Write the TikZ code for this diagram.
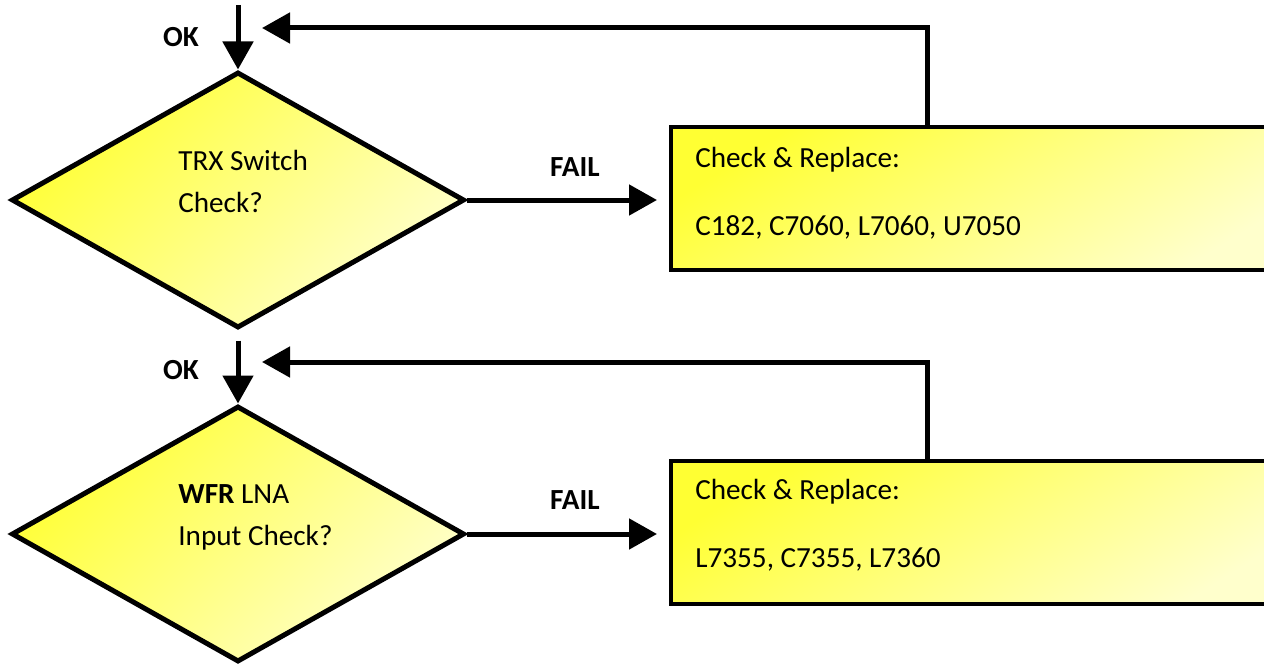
\documentclass[tikz,border=0pt]{standalone}
\usepackage{fontspec}
\setmainfont{Carlito}
\usetikzlibrary{shapes.geometric, arrows.meta, positioning, calc}
\definecolor{hiyellow}{HTML}{FFFF33}
\definecolor{paleyellow}{HTML}{FFFFCC}

\begin{document}
\begin{tikzpicture}[
    decision/.style={diamond, draw, line width=0.1cm, inner sep=0pt,
        minimum width=9.06cm, minimum height=5.12cm,
        top color=hiyellow, bottom color=paleyellow, shading angle=45},
    replbox/.style={rectangle, draw, line width=0.08cm, inner sep=0pt,
        minimum width=12.6cm, minimum height=2.86cm,
        top color=hiyellow, bottom color=paleyellow, shading angle=32},
    txt/.style={font=\fontsize{16.6}{23.9}\selectfont, inner sep=0pt, align=left},
    tag/.style={font=\fontsize{16.6}{23.9}\selectfont\bfseries, inner sep=0pt},
    flow/.style={-{Triangle[length=0.56cm, width=0.6cm]}, line width=0.1cm}
]
    \clip (0,0) rectangle (25.28,-13.34);
    \node[decision] (d1) at (4.76,-4.0) {};
    \node[decision] (d2) at (4.76,-10.68) {};
    \node[replbox] (b1) at (19.72,-3.97) {};
    \node[replbox] (b2) at (19.72,-10.65) {};
    \node[txt, anchor=west] (q1) at (3.56,-3.62) {TRX Switch\\Check?};
    \node[txt, anchor=west] (q2) at (3.56,-10.34) {\textbf{WFR} LNA\\Input Check?};
    \node[txt, anchor=west] (r1a) at (13.9,-3.2) {Check \& Replace:};
    \node[txt, anchor=west] (r1b) at (13.9,-4.54) {C182, C7060, L7060, U7050};
    \node[txt, anchor=west] (r2a) at (13.9,-9.84) {Check \& Replace:};
    \node[txt, anchor=west] (r2b) at (13.9,-11.2) {L7355, C7355, L7360};
    \node[tag] (ok1) at (3.62,-0.74) {OK};
    \node[tag] (ok2) at (3.62,-7.4) {OK};
    \node[tag] (fail1) at (11.5,-3.34) {FAIL};
    \node[tag] (fail2) at (11.5,-10.0) {FAIL};
    \coordinate (in1) at (4.76,-0.1);
    \coordinate (fb1) at (5.24,-0.56);
    \coordinate (fb2) at (5.24,-7.24);
    \draw[flow] (in1) -- (d1.north);
    \draw[flow, shorten <=0.2cm] (d1.south) -- (d2.north);
    \draw[flow, shorten >=0.24cm] (d1.east) -- (d1.east -| b1.west);
    \draw[flow, shorten >=0.24cm] (d2.east) -- (d2.east -| b2.west);
    \draw[flow] ($(b1.north west)+(5.16,0)$) |- (fb1);
    \draw[flow] ($(b2.north west)+(5.16,0)$) |- (fb2);
\end{tikzpicture}
\end{document}
